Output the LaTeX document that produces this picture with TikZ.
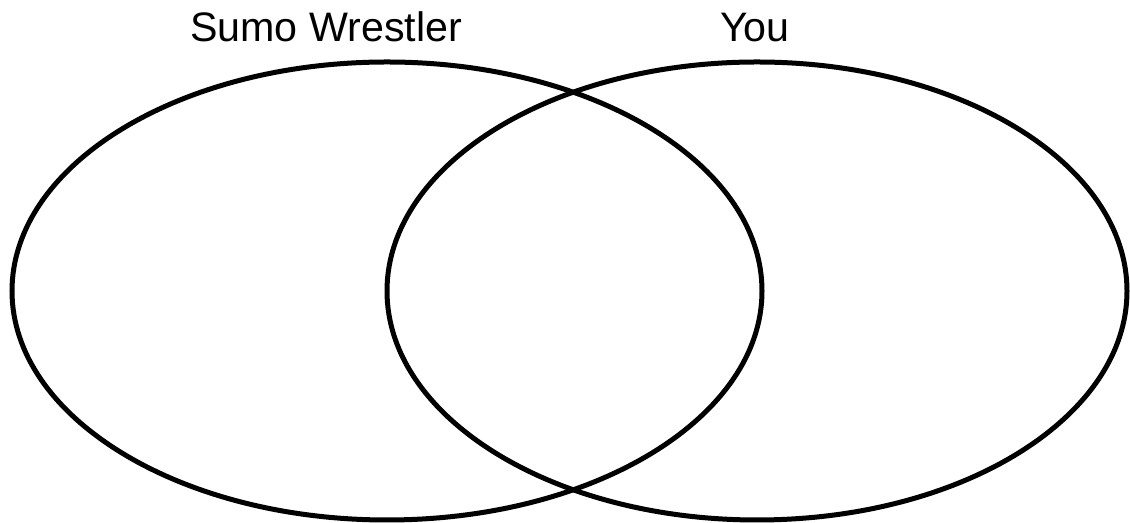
\documentclass[tikz,border=0pt]{standalone}
\usepackage{fontspec}
\setmainfont{Liberation Sans}
\usepackage{tikz}

\begin{document}
\begin{tikzpicture}[x=0.5pt,y=0.5pt,font=\fontsize{20.6}{24}\selectfont]
\path[use as bounding box] (0,0) rectangle (1130,523);

% sets
\draw[line width=2.5pt] (387,232) ellipse [x radius=375, y radius=229];
\draw[line width=2.5pt] (757,232) ellipse [x radius=370, y radius=229];

% set names
\node[anchor=base,inner sep=0pt] (sumo) at (326,481) {Sumo Wrestler};
\node[anchor=base,inner sep=0pt] (you) at (755,481) {You};
\end{tikzpicture}
\end{document}
